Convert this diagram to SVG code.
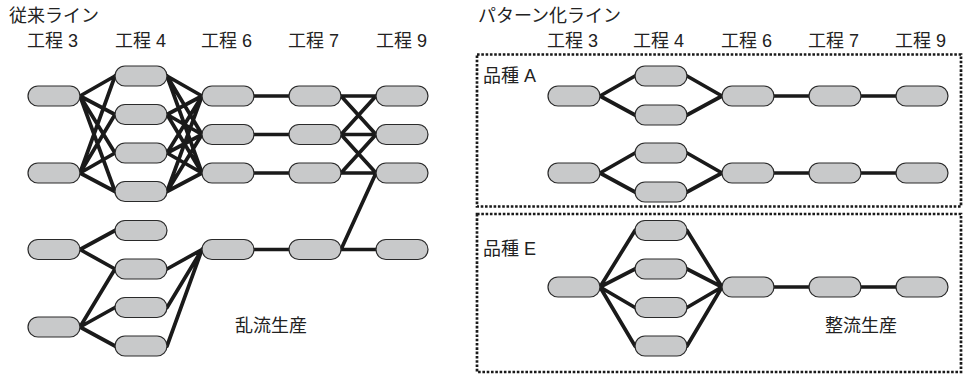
<svg xmlns="http://www.w3.org/2000/svg" width="963" height="375" viewBox="0 0 963 375">
<style>
.n{fill:#c8c9ca;stroke:#2a2a2a;stroke-width:1.2}
.e{stroke:#1a1a1a;stroke-width:3.7;stroke-linecap:round;fill:none}
.t{font-family:"Liberation Sans","Noto Sans CJK JP",sans-serif;fill:#222;font-size:18px}
.b{fill:none;stroke:#1a1a1a;stroke-width:2.7;stroke-dasharray:2.6 1.7}
</style>
<defs>
<rect id="nd" class="n" x="0" y="-10" width="52" height="20" rx="10"/>
</defs>
<rect width="963" height="375" fill="#fff"/>
<g id="frames">
<rect class="b" x="477" y="54.5" width="484" height="152"/>
<rect class="b" x="477" y="214" width="484" height="158"/>
</g>
<g id="labels" class="t">
<text x="9" y="22">従来ライン</text>
<text x="478" y="22">パターン化ライン</text>
<text x="27" y="47">工程 3</text>
<text x="115" y="47">工程 4</text>
<text x="201" y="47">工程 6</text>
<text x="288" y="47">工程 7</text>
<text x="376" y="47">工程 9</text>
<text x="547" y="47">工程 3</text>
<text x="633" y="47">工程 4</text>
<text x="721" y="47">工程 6</text>
<text x="808" y="47">工程 7</text>
<text x="895" y="47">工程 9</text>
<text x="483" y="82">品種 A</text>
<text x="483" y="255">品種 E</text>
<text x="235" y="332">乱流生産</text>
<text x="825" y="332">整流生産</text>
</g>
<g id="connectors" class="e">
<path d="M80 96L115 76M80 96L115 114.5M80 96L115 153M80 96L115 191.5M80 173L115 76M80 173L115 114.5M80 173L115 153M80 173L115 191.5"/>
<path d="M167 76L202 96M167 76L202 134.5M167 76L202 173M167 114.5L202 96M167 114.5L202 134.5M167 114.5L202 173M167 153L202 96M167 153L202 134.5M167 153L202 173M167 191.5L202 96M167 191.5L202 134.5M167 191.5L202 173"/>
<path d="M254 96H289M254 134.5H289M254 173H289M254 249.5H289"/>
<path d="M341 96L376 96M341 96L376 134.5M341 134.5L376 96M341 134.5L376 134.5M341 134.5L376 173M341 173L376 134.5M341 173L376 173M341 249.5L376 173M341 249.5L376 249.5"/>
<path d="M80 249.5L115 230.5M80 249.5L115 269M80 327L115 269M80 327L115 307.5M80 327L115 346M167 269L202 249.5M167 307.5L202 249.5M167 346L202 249.5"/>
<path d="M600 96L635 76M600 96L635 115M687 76L722 96M687 115L722 96M774 96H809M861 96H896"/>
<path d="M600 173L635 153M600 173L635 192M687 153L722 173M687 192L722 173M774 173H809M861 173H896"/>
<path d="M600 287L635 230.5M600 287L635 269M600 287L635 307.5M600 287L635 346M687 230.5L722 287M687 269L722 287M687 307.5L722 287M687 346L722 287M774 287H809M861 287H896"/>
</g>
<g id="n-l3a"><use href="#nd" x="28" y="96"/></g>
<g id="n-l3b"><use href="#nd" x="28" y="173"/></g>
<g id="n-l4a"><use href="#nd" x="115" y="76"/></g>
<g id="n-l4b"><use href="#nd" x="115" y="114.5"/></g>
<g id="n-l4c"><use href="#nd" x="115" y="153"/></g>
<g id="n-l4d"><use href="#nd" x="115" y="191.5"/></g>
<g id="n-l6a"><use href="#nd" x="202" y="96"/></g>
<g id="n-l6b"><use href="#nd" x="202" y="134.5"/></g>
<g id="n-l6c"><use href="#nd" x="202" y="173"/></g>
<g id="n-l7a"><use href="#nd" x="289" y="96"/></g>
<g id="n-l7b"><use href="#nd" x="289" y="134.5"/></g>
<g id="n-l7c"><use href="#nd" x="289" y="173"/></g>
<g id="n-l9a"><use href="#nd" x="376" y="96"/></g>
<g id="n-l9b"><use href="#nd" x="376" y="134.5"/></g>
<g id="n-l9c"><use href="#nd" x="376" y="173"/></g>
<g id="n-l3c"><use href="#nd" x="28" y="249.5"/></g>
<g id="n-l3d"><use href="#nd" x="28" y="327"/></g>
<g id="n-l4e"><use href="#nd" x="115" y="230.5"/></g>
<g id="n-l4f"><use href="#nd" x="115" y="269"/></g>
<g id="n-l4g"><use href="#nd" x="115" y="307.5"/></g>
<g id="n-l4h"><use href="#nd" x="115" y="346"/></g>
<g id="n-l6d"><use href="#nd" x="202" y="249.5"/></g>
<g id="n-l7d"><use href="#nd" x="289" y="249.5"/></g>
<g id="n-l9d"><use href="#nd" x="376" y="249.5"/></g>
<g id="n-a1-3"><use href="#nd" x="548" y="96"/></g>
<g id="n-a1-4a"><use href="#nd" x="635" y="76"/></g>
<g id="n-a1-4b"><use href="#nd" x="635" y="115"/></g>
<g id="n-a1-6"><use href="#nd" x="722" y="96"/></g>
<g id="n-a1-7"><use href="#nd" x="809" y="96"/></g>
<g id="n-a1-9"><use href="#nd" x="896" y="96"/></g>
<g id="n-a2-3"><use href="#nd" x="548" y="173"/></g>
<g id="n-a2-4a"><use href="#nd" x="635" y="153"/></g>
<g id="n-a2-4b"><use href="#nd" x="635" y="192"/></g>
<g id="n-a2-6"><use href="#nd" x="722" y="173"/></g>
<g id="n-a2-7"><use href="#nd" x="809" y="173"/></g>
<g id="n-a2-9"><use href="#nd" x="896" y="173"/></g>
<g id="n-e-3"><use href="#nd" x="548" y="287"/></g>
<g id="n-e-4a"><use href="#nd" x="635" y="230.5"/></g>
<g id="n-e-4b"><use href="#nd" x="635" y="269"/></g>
<g id="n-e-4c"><use href="#nd" x="635" y="307.5"/></g>
<g id="n-e-4d"><use href="#nd" x="635" y="346"/></g>
<g id="n-e-6"><use href="#nd" x="722" y="287"/></g>
<g id="n-e-7"><use href="#nd" x="809" y="287"/></g>
<g id="n-e-9"><use href="#nd" x="896" y="287"/></g>
</svg>
